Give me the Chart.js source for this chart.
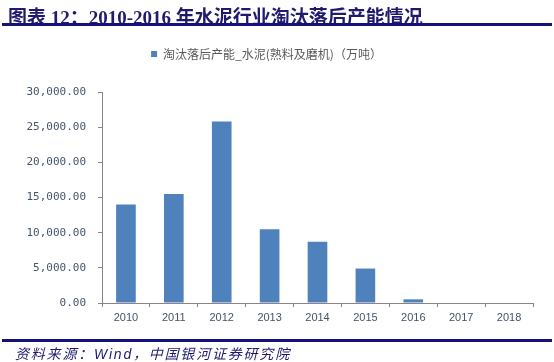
<!DOCTYPE html>
<html>
<head>
<meta charset="utf-8">
<script src="https://cdn.jsdelivr.net/npm/chart.js@4"></script>
<style>
  body { margin: 0; background: #fff; }
  #wrap { position: relative; width: 554px; height: 362px; overflow: hidden; }
  #title { position: absolute; left: 8px; top: 2px; font: bold 19px "Liberation Serif", "Noto Sans CJK SC", serif; color: #1f1a6e; white-space: nowrap; }
  #rule1 { position: absolute; left: 2px; top: 23px; width: 550px; height: 3px; background: #14127a; }
  #rule2 { position: absolute; left: 2px; top: 339px; width: 550px; height: 3px; background: #14127a; }
  #source { position: absolute; left: 15px; top: 343px; font: italic 14px "Liberation Sans", "Noto Sans CJK SC", sans-serif; letter-spacing: 1.8px; color: #1f1a6e; white-space: nowrap; }
  #c { position: absolute; left: 0; top: 0; }
</style>
</head>
<body>
<div id="wrap">
  <canvas id="c" width="554" height="362"></canvas>
  <div id="title">图表 12：2010-2016 年水泥行业淘汰落后产能情况</div>
  <div id="rule1"></div>
  <div id="rule2"></div>
  <div id="source">资料来源：Wind，中国银河证券研究院</div>
</div>
<script>
// data
var years = ['2010', '2011', '2012', '2013', '2014', '2015', '2016', '2017', '2018'];
var capacity = [14000, 15500, 25800, 10500, 8700, 4900, 520, null, null];
var seriesName = '淘汰落后产能_水泥(熟料及磨机)（万吨）';
var yTicks = [0, 5000, 10000, 15000, 20000, 25000, 30000];

function fmt(v) {
  return v.toLocaleString('en-US', { minimumFractionDigits: 2, maximumFractionDigits: 2 });
}

var axisColor = '#868686';
var labelColor = '#44546a';

var ctx = document.getElementById('c').getContext('2d');
var myChart = new Chart(ctx, {
  type: 'bar',
  data: {
    labels: years,
    datasets: [{
      label: seriesName,
      data: capacity,
      backgroundColor: '#4f81bd',
      borderWidth: 0,
      categoryPercentage: 1,
      barPercentage: 0.41
    }]
  },
  options: {
    responsive: false,
    animation: false,
    layout: { padding: { top: 17, right: 21, bottom: 34, left: 0 } },
    plugins: {
      tooltip: { enabled: false },
      legend: {
        labels: {
          font: { family: '"Noto Sans CJK SC", sans-serif', size: 12 },
          color: '#595959',
          boxWidth: 6,
          boxHeight: 6,
          padding: 31
        }
      },
      // blank spacer between legend and plot area
      subtitle: {
        display: true,
        text: ' ',
        weight: 500,
        font: { size: 10 },
        padding: { top: 5, bottom: 5 }
      }
    },
    scales: {
      x: {
        afterFit: function(s) { s.height = 25; },
        grid: { offset: true, drawOnChartArea: false, drawTicks: true, tickLength: 4, color: axisColor },
        border: { color: axisColor, width: 1 },
        ticks: { color: labelColor, font: { family: '"Liberation Sans", Arial, sans-serif', size: 11 }, padding: 4 }
      },
      y: {
        min: 0,
        max: 30000,
        afterFit: function(s) { s.width = 102; },
        afterBuildTicks: function(s) { s.ticks = yTicks.map(function(v) { return { value: v }; }); },
        grid: { drawOnChartArea: false, drawTicks: true, tickLength: 4, color: axisColor },
        border: { color: axisColor, width: 1 },
        ticks: {
          color: labelColor,
          font: { family: '"DejaVu Sans Mono", monospace', size: 11 },
          padding: 12,
          callback: function(v) { return fmt(v); }
        }
      }
    }
  }
});
</script>
</body>
</html>
